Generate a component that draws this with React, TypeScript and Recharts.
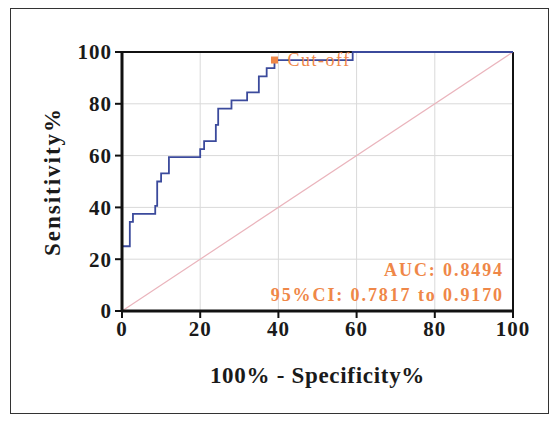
import {
  CartesianGrid,
  Line,
  LineChart,
  ReferenceDot,
  ReferenceLine,
  XAxis,
  YAxis
} from "recharts";

// ROC corner points (stepBefore: rise at previous x, then run to this x)
const fpr = [0, 2, 2.8, 8.5, 9, 10, 12, 20, 21, 24, 24.6, 28, 32, 35, 37, 39, 59, 100];
const sens = [0, 25, 34.4, 37.5, 40.6, 50, 53.1, 59.4, 62.5, 65.6, 71.9, 78.1, 81.3, 84.4, 90.6, 93.8, 96.9, 100];
const ticks = [0, 20, 40, 60, 80, 100];
const cutOff = { fpr: 39, sens: 96.9 };
const aucText = "AUC: 0.8494";
const ciText = "95%CI: 0.7817 to 0.9170";

const rocData = fpr.map((x, i) => ({ fpr: x, sens: sens[i] }));
const diagData = [
  { fpr: 0, sens: 0 },
  { fpr: 100, sens: 100 }
];

const serif = "Liberation Serif";
const orange = "#ef8748";

const SquareDot = (props: any) => {
  const { cx, cy } = props;
  return <rect x={cx - 3.5} y={cy - 3.5} width={7} height={7} fill={orange} />;
};

export default function App() {
  const tickStyle = {
    fill: "#1a1a1a",
    fontSize: 21,
    fontWeight: 700,
    fontFamily: serif,
    letterSpacing: 1,
    style: { fontFamily: serif }
  };
  return (
    <div
      style={{
        position: "absolute",
        left: 0,
        top: 0,
        width: 555,
        height: 421,
        background: "#fff",
        fontFamily: serif
      }}
    >
      <div
        style={{
          position: "absolute",
          left: 10,
          top: 8,
          width: 537,
          height: 404,
          border: "1.5px solid #333"
        }}
      />
      <div style={{ position: "absolute", left: 0, top: 0 }}>
        <LineChart width={555} height={421} margin={{ top: 52, right: 42, bottom: 80, left: 62 }}>
          <CartesianGrid stroke="#d9d9d9" strokeWidth={1} />
          <XAxis
            type="number"
            dataKey="fpr"
            domain={[0, 100]}
            ticks={ticks}
            height={30}
            tick={tickStyle}
            tickSize={7}
            tickMargin={3}
            axisLine={{ stroke: "#111", strokeWidth: 3 }}
            tickLine={{ stroke: "#111", strokeWidth: 2 }}
            label={{
              value: "100% - Specificity%",
              position: "insideBottom",
              offset: -42,
              fill: "#1a1a1a",
              fontSize: 23,
              fontWeight: 700,
              fontFamily: serif,
              letterSpacing: 0.7
            }}
          />
          <YAxis
            type="number"
            domain={[0, 100]}
            ticks={ticks}
            width={60}
            tick={tickStyle}
            tickSize={7}
            tickMargin={3}
            axisLine={{ stroke: "#111", strokeWidth: 3 }}
            tickLine={{ stroke: "#111", strokeWidth: 2 }}
            label={{
              value: "Sensitivity%",
              angle: -90,
              position: "insideLeft",
              offset: -10,
              fill: "#1a1a1a",
              fontSize: 23,
              fontWeight: 700,
              fontFamily: serif,
              letterSpacing: 2,
              style: { textAnchor: "middle" }
            }}
          />
          <ReferenceLine y={100} stroke="#111" strokeWidth={2} />
          <ReferenceLine x={100} stroke="#111" strokeWidth={2} />
          <Line
            data={diagData}
            dataKey="sens"
            type="linear"
            stroke="#eab4bc"
            strokeWidth={1.2}
            dot={false}
            isAnimationActive={false}
          />
          <Line
            data={rocData}
            dataKey="sens"
            type="stepBefore"
            stroke="#3b4a9c"
            strokeWidth={1.8}
            dot={false}
            isAnimationActive={false}
          />
          <ReferenceDot
            x={cutOff.fpr}
            y={cutOff.sens}
            shape={SquareDot}
            label={{
              value: "Cut-off",
              position: "right",
              offset: 3,
              fill: orange,
              fontSize: 18,
              fontFamily: serif,
              letterSpacing: 1.5
            }}
          />
        </LineChart>
      </div>
      <div
        style={{
          position: "absolute",
          right: 555 - 504,
          top: 258,
          textAlign: "right",
          color: orange,
          fontFamily: serif,
          fontWeight: 700,
          fontSize: 18,
          letterSpacing: 1.9,
          lineHeight: "25px",
          whiteSpace: "nowrap"
        }}
      >
        <div>{aucText}</div>
        <div>{ciText}</div>
      </div>
    </div>
  );
}
